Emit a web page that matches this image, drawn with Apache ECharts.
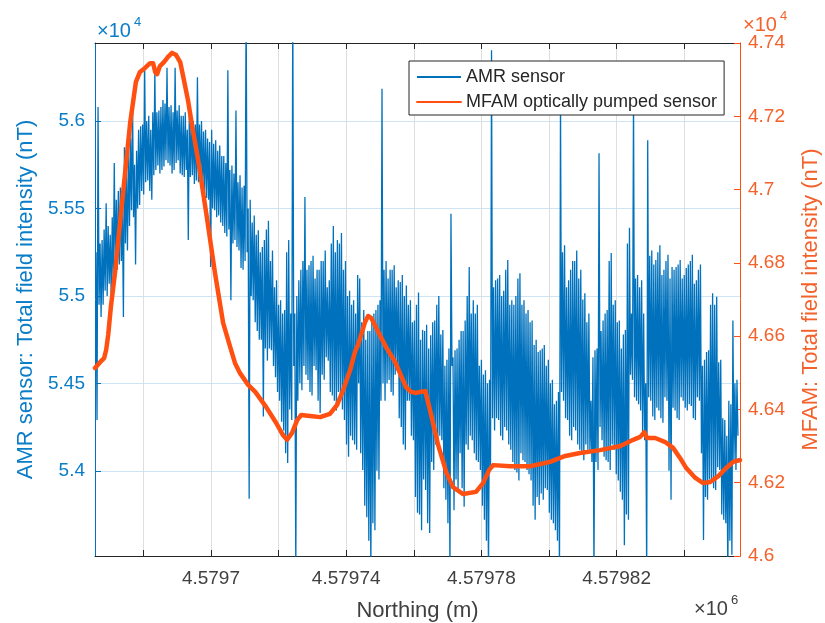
<!DOCTYPE html>
<html>
<head>
<meta charset="utf-8">
<script src="https://cdn.jsdelivr.net/npm/echarts@6/dist/echarts.min.js"></script>
<style>
  html, body { margin: 0; padding: 0; background: #ffffff; }
  #chart { width: 825px; height: 623px; }
</style>
</head>
<body>
<div id="chart"></div>
<script>
// Axis ranges and tick values (Northing in metres, fields in nT)
const northingOrigin = 4579600;
const northingRange = [4579665.7, 4579856.5];
const northingTicks = [4579680, 4579700, 4579720, 4579740, 4579760, 4579780, 4579800, 4579820, 4579840];
const northingLabels = [4579700, 4579740, 4579780, 4579820];
const amrRange = [53513, 56446];
const amrTicks = [54000, 54500, 55000, 55500, 56000];
const mfamRange = [46000, 47400];
const mfamInterval = 200;
const seriesNames = ['AMR sensor', 'MFAM optically pumped sensor'];

// AMR sensor: [northing - northingOrigin (m), total field (nT)]
const amrSamples = [
  [66.0,55250],[66.3,54290],[66.6,56080],[66.9,54950],[67.2,55300],[67.5,54880],[67.8,55320],[68.1,54950],[68.4,55380],[68.7,55030],[69.0,55530],[69.3,55000],[69.6,55400],[69.9,55070],[70.2,55350],[70.5,54980],[70.8,55450],[71.1,55090],[71.4,55760],[71.7,55150],
  [72.0,55550],[72.3,55150],[72.6,55600],[72.9,55180],[73.2,55620],[73.5,55200],[73.8,55500],[74.1,54880],[74.4,55850],[74.7,55300],[75.0,55700],[75.3,55260],[75.6,55830],[75.9,55400],[76.2,55900],[76.5,55490],[76.8,56120],[77.1,55450],[77.4,55750],[77.7,55180],
  [78.0,55830],[78.3,55500],[78.6,55950],[78.9,55520],[79.2,55970],[79.5,55600],[79.8,55980],[80.1,55580],[80.4,56290],[80.7,55650],[81.0,56000],[81.3,55660],[81.6,56030],[81.9,55600],[82.2,55950],[82.5,55550],[82.8,56050],[83.1,55690],[83.4,56290],[83.7,55720],
  [84.0,56050],[84.3,55745],[84.6,56060],[84.9,55700],[85.2,56080],[85.5,55720],[85.8,56120],[86.1,55740],[86.4,56100],[86.7,55775],[87.0,56305],[87.3,55760],[87.6,56080],[87.9,55745],[88.2,56090],[88.5,55700],[88.8,56050],[89.1,55720],[89.4,56305],[89.7,55760],
  [90.0,56060],[90.3,55775],[90.6,56090],[90.9,55700],[91.2,56030],[91.5,55690],[91.8,56030],[92.1,55680],[92.4,56050],[92.7,55720],[93.0,55950],[93.3,55320],[93.6,56060],[93.9,55680],[94.2,56020],[94.5,55690],[94.8,56000],[95.1,55640],[95.4,55980],[95.7,55660],
  [96.0,56250],[96.3,55650],[96.6,55980],[96.9,55660],[97.2,56000],[97.5,55600],[97.8,55940],[98.1,55580],[98.4,55950],[98.7,55560],[99.0,55900],[99.3,55550],[99.6,55880],[99.9,55165],[100.2,55950],[100.5,55500],[100.8,55870],[101.1,55490],[101.4,55890],[101.7,55450],
  [102.0,55830],[102.3,55460],[102.6,55860],[102.9,55420],[103.2,55800],[103.5,55400],[103.8,55800],[104.1,55360],[104.4,55760],[104.7,55340],[105.0,56290],[105.3,55380],[105.6,55720],[105.9,54975],[106.2,55745],[106.5,55300],[106.8,55700],[107.1,55320],[107.4,56060],[107.7,55280],
  [108.0,55650],[108.3,55260],[108.6,55690],[108.9,55160],[109.2,55620],[109.5,55150],[109.8,55630],[110.1,55200],[110.4,56700],[110.7,55250],[111.0,55500],[111.3,53840],[111.6,55550],[111.9,55000],[112.2,55420],[112.5,54975],[112.8,55460],[113.1,54850],[113.4,55350],[113.7,54800],
  [114.0,55375],[114.3,54750],[114.6,55250],[114.9,54750],[115.2,55280],[115.5,54310],[115.8,55320],[116.1,54700],[116.4,55380],[116.7,54630],[117.0,55430],[117.3,54700],[117.6,55200],[117.9,54690],[118.2,55260],[118.5,54600],[118.8,55050],[119.1,54535],[119.4,55090],[119.7,54450],
  [120.0,54950],[120.3,54400],[120.6,54975],[120.9,54280],[121.2,54900],[121.5,54230],[121.8,54920],[122.1,54100],[122.4,55250],[122.7,54045],[123.0,55320],[123.3,54350],[123.6,54900],[123.9,54290],[124.2,56700],[124.5,54600],[124.8,54900],[125.1,53400],[125.4,55000],[125.7,54400],
  [126.0,55090],[126.3,54500],[126.6,55150],[126.9,54460],[127.2,55200],[127.5,54600],[127.8,55565],[128.1,54550],[128.4,55150],[128.7,54520],[129.0,55175],[129.3,54450],[129.6,55200],[129.9,54430],[130.2,55230],[130.5,54600],[130.8,55100],[131.1,54575],[131.4,55150],[131.7,54400],
  [132.0,55150],[132.3,54330],[132.6,55200],[132.9,54550],[133.2,55200],[133.5,54520],[133.8,55260],[134.1,54650],[134.4,55050],[134.7,54630],[135.0,55090],[135.3,54450],[135.6,55300],[135.9,54430],[136.2,55400],[136.5,54400],[136.8,55250],[137.1,54345],[137.4,55320],[137.7,54450],
  [138.0,55300],[138.3,54400],[138.6,55360],[138.9,54350],[139.2,55150],[139.5,54290],[139.8,55200],[140.1,54150],[140.4,55000],[140.7,54080],[141.0,55030],[141.3,54200],[141.6,54950],[141.9,54175],[142.2,54975],[142.5,54150],[142.8,54900],[143.1,54120],[143.4,55120],[143.7,54500],
  [144.0,55100],[144.3,54100],[144.6,54850],[144.9,54005],[145.2,54920],[145.5,53800],[145.8,54750],[146.1,53735],[146.4,54800],[146.7,53600],[147.0,54800],[147.3,53400],[147.6,54860],[147.9,53700],[148.2,54900],[148.5,53660],[148.8,54920],[149.1,54000],[149.4,54950],[149.7,53950],
  [150.0,54975],[150.3,54400],[150.6,56185],[150.9,54500],[151.2,55150],[151.5,54400],[151.8,55200],[152.1,54500],[152.4,55100],[152.7,54520],[153.0,55150],[153.3,54450],[153.6,55150],[153.9,54430],[154.2,55175],[154.5,54550],[154.8,55050],[155.1,54575],[155.4,55090],[155.7,54300],
  [156.0,55080],[156.3,54250],[156.6,55120],[156.9,54150],[157.2,55000],[157.5,54120],[157.8,55060],[158.1,54400],[158.4,54950],[158.7,54400],[159.0,54975],[159.3,54200],[159.6,54850],[159.9,54175],[160.2,54860],[160.5,53850],[160.8,54950],[161.1,53760],[161.4,55020],[161.7,53750],
  [162.0,54750],[162.3,53660],[162.6,54805],[162.9,53950],[163.2,54800],[163.5,53890],[163.8,54835],[164.1,53700],[164.4,54700],[164.7,53645],[165.0,54775],[165.3,54050],[165.6,54850],[165.9,54005],[166.2,54860],[166.5,54150],[166.8,54950],[167.1,54120],[167.4,55000],[167.7,54200],
  [168.0,54780],[168.3,54175],[168.6,54805],[168.9,53900],[169.2,54600],[169.5,53835],[169.8,54635],[170.1,53700],[170.4,54700],[170.7,53400],[171.0,55470],[171.3,54600],[171.6,54650],[171.9,53775],[172.2,54690],[172.5,53950],[172.8,54700],[173.1,53890],[173.4,54750],[173.7,54100],
  [174.0,54800],[174.3,53900],[174.6,54800],[174.9,53795],[175.2,54860],[175.5,54150],[175.8,55000],[176.1,54120],[176.4,55165],[176.7,54200],[177.0,54900],[177.3,54175],[177.6,54975],[177.9,54100],[178.2,54900],[178.5,54060],[178.8,54950],[179.1,54050],[179.4,54600],[179.7,54005],
  [180.0,54635],[180.3,53800],[180.6,54550],[180.9,53720],[181.2,54575],[181.5,53600],[181.8,54500],[182.1,53400],[182.4,54520],[182.7,54000],[183.0,56405],[183.3,54300],[183.6,55050],[183.9,54230],[184.2,55090],[184.5,54300],[184.8,55100],[185.1,54290],[185.4,55120],[185.7,54200],
  [186.0,55000],[186.3,54175],[186.6,55030],[186.9,54250],[187.2,55150],[187.5,54230],[187.8,55205],[188.1,54150],[188.4,54950],[188.7,54120],[189.0,54975],[189.3,54050],[189.6,54950],[189.9,54005],[190.2,55000],[190.5,53990],[190.8,55100],[191.1,53945],[191.4,55130],[191.7,54100],
  [192.0,54950],[192.3,54060],[192.6,54975],[192.9,54050],[193.2,54900],[193.5,54005],[193.8,54920],[194.1,53980],[194.4,54850],[194.7,53945],[195.0,54860],[195.3,53800],[195.6,54720],[195.9,53720],[196.2,54750],[196.5,53850],[196.8,54680],[197.1,53805],[197.4,54690],[197.7,53870],
  [198.0,54700],[198.3,53835],[198.6,54720],[198.9,53900],[199.2,54600],[199.5,53890],[199.8,54635],[200.1,53760],[200.4,54500],[200.7,53720],[201.0,54520],[201.3,53700],[201.6,54380],[201.9,53660],[202.2,54400],[202.5,53600],[202.8,54450],[203.1,53400],[203.4,56150],[203.7,54450],
  [204.0,55250],[204.3,54400],[204.6,55290],[204.9,54300],[205.2,55050],[205.5,54290],[205.8,55090],[206.1,54200],[206.4,55150],[206.7,54175],[207.0,55200],[207.3,54250],[207.6,55200],[207.9,54230],[208.2,55260],[208.5,54150],[208.8,55100],[209.1,54120],[209.4,55150],[209.7,54100],
  [210.0,54980],[210.3,54060],[210.6,55015],[210.9,54150],[211.2,54850],[211.5,54120],[211.8,54900],[212.1,54100],[212.4,54400],[212.7,54050],[213.0,54650],[213.3,53400],[213.6,54690],[213.9,54050],[214.2,54700],[214.5,54005],[214.8,55815],[215.1,54250],[215.4,54800],[215.7,54175],
  [216.0,54860],[216.3,54080],[216.6,54900],[216.9,54060],[217.2,54920],[217.5,54050],[217.8,55200],[218.1,54005],[218.4,55245],[218.7,54150],[219.0,54950],[219.3,54120],[219.6,54975],[219.9,53980],[220.2,54850],[220.5,53945],[220.8,54860],[221.1,53880],[221.4,54700],[221.7,53835],
  [222.0,54780],[222.3,53575],[222.6,54805],[222.9,53750],[223.2,55300],[223.5,53720],[223.8,55390],[224.1,54550],[224.4,54900],[224.7,54520],[225.0,56150],[225.3,54420],[225.6,55100],[225.9,54400],[226.2,55120],[226.5,54380],[226.8,55050],[227.1,54345],[227.4,55090],[227.7,54200],
  [228.0,54900],[228.3,54175],[228.6,54500],[228.9,53400],[229.2,55890],[229.5,54420],[229.8,55230],[230.1,54400],[230.4,55260],[230.7,54310],[231.0,55180],[231.3,54290],[231.6,55205],[231.9,54360],[232.2,55250],[232.5,54345],[232.8,55290],[233.1,54300],[233.4,55120],[233.7,54275],
  [234.0,55150],[234.3,54420],[234.6,55200],[234.9,54400],[235.2,55235],[235.5,54000],[235.8,55100],[236.1,53835],[236.4,55165],[236.7,54360],[237.0,55150],[237.3,54345],[237.6,55165],[237.9,54300],[238.2,55180],[238.5,54290],[238.8,55205],[239.1,54420],[239.4,55100],[239.7,54400],
  [240.0,55120],[240.3,54360],[240.6,55160],[240.9,54345],[241.2,55180],[241.5,54380],[241.8,55200],[242.1,54370],[242.4,55235],[242.7,54300],[243.0,55070],[243.3,54290],[243.6,55090],[243.9,54420],[244.2,55150],[244.5,54400],[244.8,55180],[245.1,54100],[245.4,54600],[245.7,53605],
  [246.0,54635],[246.3,53850],[246.6,54680],[246.9,53835],[247.2,54690],[247.5,53950],[247.8,54950],[248.1,53945],[248.4,55015],[248.7,53900],[249.0,54950],[249.3,53890],[249.6,54995],[249.9,54020],[250.2,54620],[250.5,54005],[250.8,54635],[251.1,53750],[251.4,54300],[251.7,53720],
  [252.0,54290],[252.3,53700],[252.6,54200],[252.9,53400],[253.2,54400],[253.5,53600],[253.8,54380],[254.1,53520],[254.4,54860],[254.7,54050],[255.0,54500],[255.3,54005],[255.6,54520],[255.9,54200]
];

// MFAM optically pumped sensor: [northing - northingOrigin (m), total field (nT)]
const mfamSamples = [
  [65.7,46513],[67.2,46529],[68.4,46540],[69.0,46562],[69.6,46603],
  [70.4,46680],[71.6,46772],[73.1,46909],[74.6,47045],[76.1,47182],
  [77.8,47294],[79.0,47321],[80.5,47332],[82.0,47345],[82.9,47345],
  [83.5,47321],[84.1,47315],[84.9,47337],[86.1,47348],[87.3,47362],
  [88.5,47373],[89.7,47367],[90.9,47348],[92.0,47299],[93.2,47244],
  [94.4,47176],[96.2,47081],[98.6,46936],[101.2,46772],[103.6,46636],
  [105.7,46570],[107.1,46527],[108.6,46499],[111.0,46467],[113.1,46448],
  [116.3,46407],[119.3,46363],[121.3,46330],[122.5,46317],[124.0,46336],
  [125.5,46371],[126.7,46385],[129.3,46382],[132.3,46379],[135.2,46388],
  [137.3,46412],[139.1,46453],[141.2,46508],[142.6,46557],[143.5,46576],
  [144.4,46603],[145.6,46639],[146.5,46655],[147.4,46650],[148.9,46622],
  [151.8,46570],[154.5,46529],[156.0,46497],[157.7,46461],[159.2,46448],
  [160.7,46445],[161.9,46448],[163.4,46450],[164.8,46398],[167.2,46303],
  [169.6,46229],[171.6,46188],[174.6,46169],[178.4,46175],[180.5,46199],
  [182.3,46235],[183.5,46248],[188.5,46245],[194.4,46245],[200.3,46257],
  [204.8,46273],[209.2,46281],[215.1,46289],[221.1,46300],[224.9,46317],
  [227.0,46325],[228.2,46338],[229.0,46322],[231.4,46322],[234.4,46311],
  [236.7,46295],[238.8,46267],[240.6,46240],[243.3,46213],[245.6,46199],
  [247.7,46202],[250.1,46218],[252.4,46240],[254.5,46257],[256.5,46262]
];

const FONT = '"Liberation Sans", Arial, Helvetica, sans-serif';
const DARK = '#262626';
const BLUE = '#0072BD';
const BLUE_TEXT = '#0A7DC8';
const ORANGE = '#FF5012';
const ORANGE_TEXT = '#F4622C';

const toNorthing = rows => rows.map(([dn, field]) => [northingOrigin + dn, field]);
const tenThousandths = v => String(+(v / 1e4).toFixed(4));
const millionths = v => String(+(v / 1e6).toFixed(6));

const chart = echarts.init(document.getElementById('chart'), null, { renderer: 'canvas' });

chart.setOption({
  animation: false,
  backgroundColor: '#ffffff',
  textStyle: { fontFamily: FONT },
  grid: { left: 95, top: 43, right: 85, bottom: 67, containLabel: false, outerBoundsMode: 'none' },
  legend: {
    data: seriesNames,
    orient: 'vertical',
    left: 409,
    top: 61,
    backgroundColor: '#ffffff',
    borderColor: DARK,
    borderWidth: 1,
    borderRadius: 0,
    padding: [7, 7, 4, 7],
    itemWidth: 44,
    itemHeight: 18,
    itemGap: 7,
    itemStyle: { opacity: 0 },
    lineStyle: { width: 2 },
    textStyle: { fontFamily: FONT, fontSize: 18, color: DARK },
    selectedMode: false
  },
  xAxis: [
    {
      type: 'value',
      position: 'bottom',
      min: northingRange[0],
      max: northingRange[1],
      name: 'Northing (m)',
      nameLocation: 'middle',
      nameGap: 44,
      nameTextStyle: { fontFamily: FONT, fontSize: 22, color: '#404040' },
      axisLine: { show: true, onZero: false, lineStyle: { color: DARK, width: 1 } },
      axisTick: { show: true, inside: true, length: 6, customValues: northingTicks, lineStyle: { color: DARK } },
      axisLabel: { show: true, customValues: northingLabels, formatter: millionths, margin: 13,
                   fontFamily: FONT, fontSize: 19, color: '#404040' },
      splitLine: { show: true, lineStyle: { color: '#dedede', width: 1 } }
    },
    {
      type: 'value',
      position: 'top',
      min: northingRange[0],
      max: northingRange[1],
      axisLine: { show: true, onZero: false, lineStyle: { color: DARK, width: 1 } },
      axisTick: { show: true, inside: true, length: 6, customValues: northingTicks, lineStyle: { color: DARK } },
      axisLabel: { show: false },
      splitLine: { show: false }
    }
  ],
  yAxis: [
    {
      type: 'value',
      position: 'left',
      min: amrRange[0],
      max: amrRange[1],
      name: 'AMR sensor: Total field intensity (nT)',
      nameLocation: 'middle',
      nameGap: 54,
      nameRotate: 90,
      nameTextStyle: { fontFamily: FONT, fontSize: 22, color: BLUE_TEXT },
      axisLine: { show: true, onZero: false, lineStyle: { color: BLUE, width: 1 } },
      axisTick: { show: true, inside: true, length: 6, customValues: amrTicks, lineStyle: { color: BLUE } },
      axisLabel: { show: true, customValues: amrTicks, formatter: tenThousandths, margin: 10,
                   fontFamily: FONT, fontSize: 19, color: BLUE_TEXT },
      splitLine: { show: true, lineStyle: { color: '#cfe4f3', width: 1 } }
    },
    {
      type: 'value',
      position: 'right',
      min: mfamRange[0],
      max: mfamRange[1],
      interval: mfamInterval,
      name: 'MFAM: Total field intensity (nT)',
      nameLocation: 'middle',
      nameGap: 60,
      nameRotate: 90,
      nameTextStyle: { fontFamily: FONT, fontSize: 22, color: ORANGE_TEXT },
      axisLine: { show: true, onZero: false, lineStyle: { color: ORANGE, width: 1 } },
      axisTick: { show: true, inside: true, length: 6, lineStyle: { color: ORANGE } },
      axisLabel: { show: true, formatter: tenThousandths, margin: 8,
                   fontFamily: FONT, fontSize: 19, color: ORANGE_TEXT },
      splitLine: { show: false }
    }
  ],
  series: [
    {
      name: seriesNames[0],
      type: 'line',
      xAxisIndex: 0,
      yAxisIndex: 0,
      data: toNorthing(amrSamples),
      symbol: 'none',
      showSymbol: false,
      clip: true,
      z: 2,
      lineStyle: { color: BLUE, width: 1.3, join: 'bevel' },
      itemStyle: { color: BLUE }
    },
    {
      name: seriesNames[1],
      type: 'line',
      xAxisIndex: 0,
      yAxisIndex: 1,
      data: toNorthing(mfamSamples),
      symbol: 'none',
      showSymbol: false,
      clip: true,
      z: 3,
      lineStyle: { color: ORANGE, width: 4.5, join: 'round', cap: 'round' },
      itemStyle: { color: ORANGE }
    }
  ],
  graphic: [
    // exponent multipliers for each axis
    { type: 'text', x: 97, y: 21, style: { text: '×10', font: '20px ' + FONT, fill: BLUE_TEXT, align: 'left', verticalAlign: 'top' } },
    { type: 'text', x: 134, y: 16, style: { text: '4', font: '13px ' + FONT, fill: BLUE_TEXT, align: 'left', verticalAlign: 'top' } },
    { type: 'text', x: 743, y: 15, style: { text: '×10', font: '20px ' + FONT, fill: ORANGE_TEXT, align: 'left', verticalAlign: 'top' } },
    { type: 'text', x: 780, y: 10, style: { text: '4', font: '13px ' + FONT, fill: ORANGE_TEXT, align: 'left', verticalAlign: 'top' } },
    { type: 'text', x: 694, y: 599, style: { text: '×10', font: '20px ' + FONT, fill: '#404040', align: 'left', verticalAlign: 'top' } },
    { type: 'text', x: 731, y: 594, style: { text: '6', font: '13px ' + FONT, fill: '#404040', align: 'left', verticalAlign: 'top' } }
  ]
});
</script>
</body>
</html>
